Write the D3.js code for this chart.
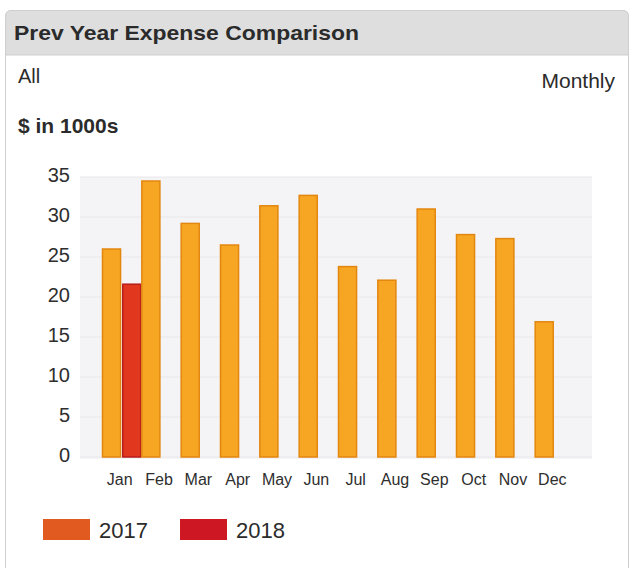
<!DOCTYPE html>
<html lang="en">
<head>
    <meta charset="UTF-8">
    <title>Prev Year Expense Comparison</title>
    <style type="text/css">
        body {
            margin: 0;
            background: #fff;
            font-family: "Liberation Sans", Arial, sans-serif;
        }
        .ylab {
            font-size: 20px;
            fill: #2e2e2e;
        }
        .xlab {
            font-size: 16px;
            fill: #2e2e2e;
        }
    </style>
</head>
<script src="https://d3js.org/d3.v7.min.js"></script>
<body>
<svg id="chart"></svg>

<script>
// Chart data
var months = ["Jan", "Feb", "Mar", "Apr", "May", "Jun", "Jul", "Aug", "Sep", "Oct", "Nov", "Dec"];
var years = ["2017", "2018"];
var values2017 = [26, 34.5, 29.2, 26.5, 31.4, 32.7, 23.8, 22.1, 31, 27.8, 27.3, 16.9];
var values2018 = [21.6, null, null, null, null, null, null, null, null, null, null, null];
var yTicks = [0, 5, 10, 15, 20, 25, 30, 35];

var svgWidth = 640;
var svgHeight = 568;

var svg = d3.select("#chart")
            .attr("width", svgWidth)
            .attr("height", svgHeight);

// Panel frame and header
svg.append("rect")
    .attr("x", 5.5).attr("y", 10.5)
    .attr("width", 623).attr("height", 600)
    .attr("rx", 6)
    .attr("fill", "#fff")
    .attr("stroke", "#cfcfcf");

svg.append("path")
    .attr("d", "M5.5,55 V16.5 Q5.5,10.5 11.5,10.5 H622.5 Q628.5,10.5 628.5,16.5 V55 Z")
    .attr("fill", "#dedede")
    .attr("stroke", "#cfcfcf");

svg.append("text")
    .attr("x", 14).attr("y", 40)
    .attr("font-size", "21px")
    .attr("font-weight", "bold")
    .attr("fill", "#2b2b2b")
    .attr("textLength", 345)
    .attr("lengthAdjust", "spacingAndGlyphs")
    .text("Prev Year Expense Comparison");

svg.append("text")
    .attr("x", 18).attr("y", 83)
    .attr("font-size", "20px")
    .attr("fill", "#2b2b2b")
    .text("All");

svg.append("text")
    .attr("x", 615).attr("y", 88)
    .attr("text-anchor", "end")
    .attr("font-size", "21px")
    .attr("fill", "#2b2b2b")
    .text("Monthly");

svg.append("text")
    .attr("x", 18).attr("y", 133)
    .attr("font-size", "21px")
    .attr("font-weight", "bold")
    .attr("fill", "#2b2b2b")
    .text("$ in 1000s");

// Scales
var x0 = d3.scaleBand().domain(months).range([102, 574]).paddingInner(0);
var x1 = d3.scaleBand().domain(years).range([0, x0.bandwidth()]).paddingInner(0.06);
var ys = d3.scaleLinear().domain([0, 35]).range([457, 177]);
var colors = {"2017": "#f6a623", "2018": "#e2371f"};
var strokes = {"2017": "#e3860f", "2018": "#b91d1a"};

// Plot background and grid
svg.append("rect")
    .attr("x", 80).attr("y", ys(35))
    .attr("width", 512).attr("height", ys(0) - ys(35) + 2)
    .attr("fill", "#f4f4f6");

svg.append("g")
    .selectAll("line")
    .data(yTicks)
    .enter()
    .append("line")
        .attr("x1", 80).attr("x2", 592)
        .attr("y1", function(d) { return ys(d); })
        .attr("y2", function(d) { return ys(d); })
        .attr("stroke", "#e8e8ec");

// Bars
var rows = [];
months.forEach(function(m, i) {
    rows.push({month: m, year: "2017", value: values2017[i]});
    if (values2018[i] != null) rows.push({month: m, year: "2018", value: values2018[i]});
});

svg.append("g")
    .selectAll("rect")
    .data(rows)
    .enter()
    .append("rect")
        .attr("x", function(d) { return x0(d.month) + x1(d.year) + 0.5; })
        .attr("y", function(d) { return ys(d.value); })
        .attr("width", x1.bandwidth() - 1)
        .attr("height", function(d) { return ys(0) - ys(d.value); })
        .attr("fill", function(d) { return colors[d.year]; })
        .attr("stroke", function(d) { return strokes[d.year]; })
        .attr("stroke-width", 1.5);

// Axes labels
svg.append("g")
    .selectAll("text")
    .data(yTicks)
    .enter()
    .append("text")
        .attr("class", "ylab")
        .attr("x", 70)
        .attr("y", function(d) { return ys(d) - 2; })
        .attr("dy", "0.35em")
        .attr("text-anchor", "end")
        .text(function(d) { return d; });

svg.append("g")
    .selectAll("text")
    .data(months)
    .enter()
    .append("text")
        .attr("class", "xlab")
        .attr("x", function(d) { return x0(d) + x0.bandwidth() / 2 - 2; })
        .attr("y", 485)
        .attr("text-anchor", "middle")
        .text(function(d) { return d; });

// Legend
var legendColors = {"2017": "#e15a1f", "2018": "#cd1823"};
var legend = svg.append("g")
    .selectAll("g")
    .data(years)
    .enter()
    .append("g")
        .attr("transform", function(d, i) { return "translate(" + (43 + i * 137) + ",519)"; });

legend.append("rect")
    .attr("width", 47).attr("height", 21)
    .attr("fill", function(d) { return legendColors[d]; });

legend.append("text")
    .attr("x", 56).attr("y", 19)
    .attr("font-size", "22px")
    .attr("fill", "#2b2b2b")
    .text(function(d) { return d; });
</script>
</body>
</html>
